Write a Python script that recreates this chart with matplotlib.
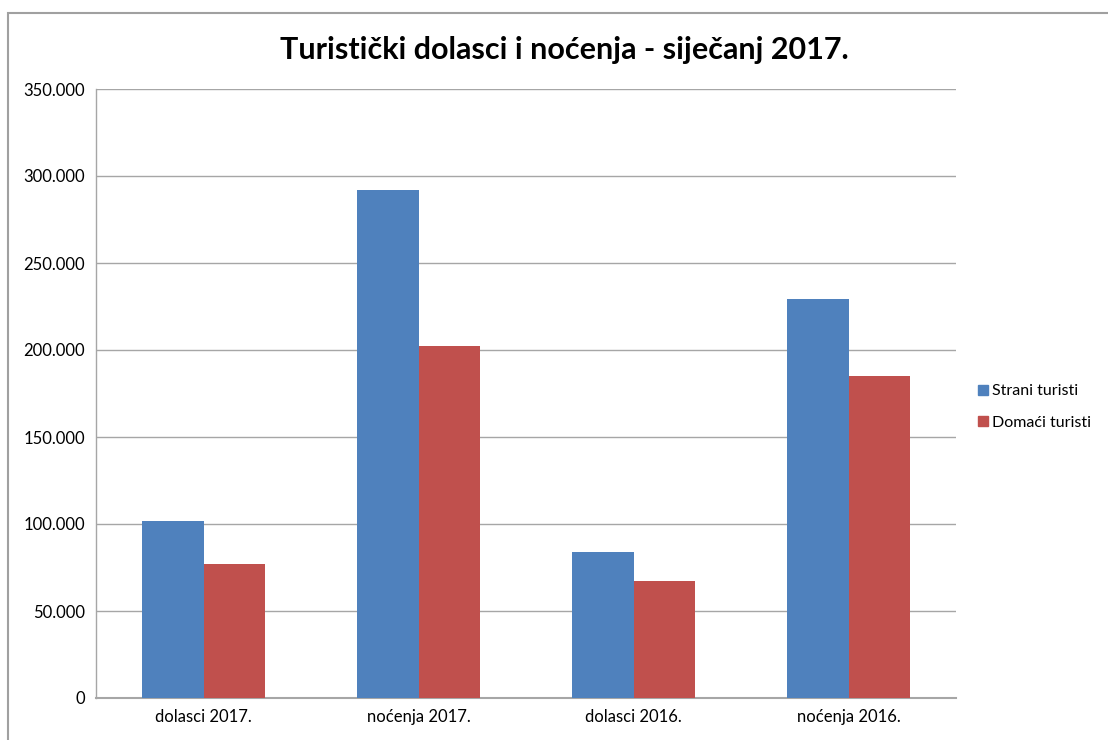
import numpy as np
import matplotlib.pyplot as plt
from matplotlib.patches import Rectangle, Patch
from matplotlib.ticker import FuncFormatter

plt.rcParams['font.family'] = ['Lato', 'DejaVu Sans']

# podaci
kategorije = ['dolasci 2017.', 'noćenja 2017.', 'dolasci 2016.', 'noćenja 2016.']
strani = [102000, 292000, 84000, 229500]
domaci = [77000, 202500, 67000, 185000]
serije = ['Strani turisti', 'Domaći turisti']
boje = ['#4F81BD', '#C0504D']

fig = plt.figure(figsize=(11.08, 7.4), dpi=100)
fig.patches.append(Rectangle((8/1108, -0.1), 1.2, (740-13)/740 + 0.1, transform=fig.transFigure,
                             fill=False, edgecolor='#A0A0A0', linewidth=1.5))

ax = fig.add_axes([96/1108, 42/740, 860/1108, 609/740])
x = np.arange(len(kategorije))
w = 0.284
ax.bar(x - w/2, strani, w, color=boje[0], zorder=3)
ax.bar(x + w/2, domaci, w, color=boje[1], zorder=3)

ax.set_xlim(-0.5, 3.5)
ax.set_ylim(0, 350000)
ax.set_yticks(np.arange(0, 350001, 50000))
ax.yaxis.set_major_formatter(FuncFormatter(lambda v, p: '0' if v == 0 else f'{int(v):,}'.replace(',', '.')))
ax.set_xticks(x)
ax.set_xticklabels(kategorije)
ax.tick_params(axis='both', length=0, labelsize=12, colors='black', pad=8)
ax.grid(axis='y', color='#A6A6A6', linewidth=1, zorder=0)
for s in ['top', 'right']:
    ax.spines[s].set_visible(False)
for s in ['left', 'bottom']:
    ax.spines[s].set_color('#A6A6A6')
ax.spines['left'].set_linewidth(1)
ax.spines['bottom'].set_linewidth(1.5)

fig.text(564/1108, 1 - 50/740, 'Turistički dolasci i noćenja - siječanj 2017.', ha='center', va='center',
         fontsize=22, fontweight='bold')

ruke = [Patch(color=boje[0]), Patch(color=boje[1])]
fig.legend(ruke, serije, loc='center left', bbox_to_anchor=(978/1108, 1 - 407/740), frameon=False,
           fontsize=11.5, handlelength=0.6, handleheight=0.6, handletextpad=0.3, labelspacing=1.1,
           borderpad=0, borderaxespad=0)

fig.savefig('out.png', dpi=100)
